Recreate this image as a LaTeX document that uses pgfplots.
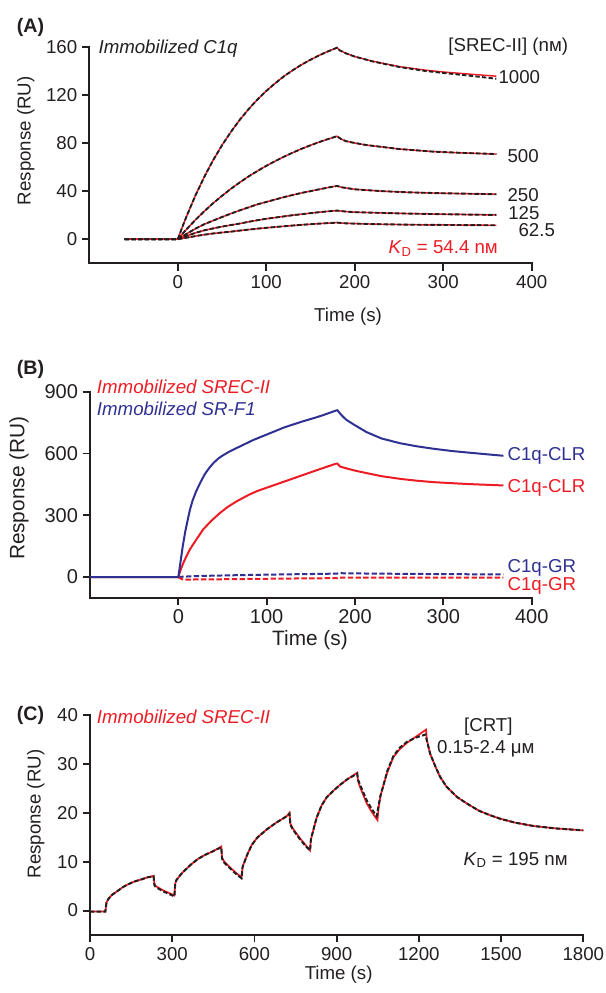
\documentclass[border=0pt]{standalone}
\usepackage{fontspec}
\setmainfont{Liberation Sans}
\usepackage{pgfplots}
\usepackage{pgfplotstable}
\pgfplotsset{compat=1.18}
\definecolor{myred}{HTML}{ED1C24}
\definecolor{myblue}{HTML}{2E3192}
\definecolor{ink}{HTML}{231F20}
\newcommand\fs{\fontsize{14}{16.8}\selectfont}
\newcommand\fsb{\fontsize{15}{18}\selectfont}

\pgfplotstableread{
t r
-60 0
0 0
5 9.9
10 19.2
20 36.5
30 51.9
40 65.8
50 78.1
60 89.2
70 99.2
80 108.1
90 116.1
100 123.2
110 129.6
120 135.4
130 140.5
140 145.1
150 149.2
160 152.9
170 156.2
180 159.2
183 157
190 154.5
200 151.8
220 148
250 143.5
280 140.5
300 139
330 137.2
360 135.5
}\Afitk
\pgfplotstableread{
t r
-60 0
0 0
5 9.9
10 19.2
20 36.5
30 51.9
40 65.8
50 78.1
60 89.2
70 99.2
80 108.1
90 116.1
100 123.2
110 129.6
120 135.4
130 140.5
140 145.1
150 149.2
160 152.9
170 156.2
180 159.2
183 157
190 154.5
200 151.8
220 147.8
250 143.2
280 139.8
300 138.2
330 135.9
360 133.4
}\Adatk
\pgfplotstableread{
t r
-60 0
0 0
10 8.4
20 16.1
30 23.3
40 30.0
50 36.1
60 41.9
70 47.2
80 52.2
90 56.7
100 61.0
110 64.9
120 68.6
130 72.0
140 75.2
150 78.1
160 80.8
170 83.3
180 85.6
184 83.5
190 81.5
200 80
213 78.3
250 75
289 72.8
320 71.8
360 70.8
}\Afive
\pgfplotstableread{
t r
-60 0
0 0
10 4.5
20 8.8
30 12.5
40 15.5
50 18.5
60 21.3
70 24
80 26.5
90 29
100 31
110 33
120 35
130 36.8
140 38.5
150 40
160 41.5
170 43
180 44.3
185 43.2
200 41.5
230 40
260 39
300 38.2
360 37.4
}\Atwo
\pgfplotstableread{
t r
-60 0
0 0
10 2.8
20 5.3
30 7.4
40 9
50 10.5
60 11.8
70 13
80 14.5
90 15.8
100 17
110 18
120 19
130 20
140 20.8
150 21.7
160 22.5
170 23.2
180 23.8
190 23
200 22.5
250 21.5
300 20.8
360 20.2
}\Aone
\pgfplotstableread{
t r
-60 0
0 0
10 1.3
20 2.6
30 3.8
40 4.8
50 5.6
60 6.3
70 7.2
80 8
90 8.8
100 9.5
120 10.8
140 12
160 13
180 13.8
190 13.2
220 12.6
260 12.1
300 11.9
360 11.6
}\Asix

\pgfplotstableread{
t r
-100 0
0 0
2 60
5 150
8 225
10 265
13 325
16 370
20 415
25 460
30 500
35 530
40 555
45 575
50 590
58 610
70 635
85 666
100 692
120 727
140 755
155 774
165 788
178 808
180 810
185 785
190 764
200 737
213 704
230 673
251 650
270 635
289 623
310 612
327 605
350 596
368 589
}\BblueCLR
\pgfplotstableread{
t r
-100 0
0 0
3 40
6 72
9 100
13 134
20 180
28 231
37 272
47 311
56 341
66 368
80 400
90 419
104 440
120 464
142 497
160 524
178 550
180 551
183 537
190 528
200 517
213 505
230 490
251 477
270 468
289 461
310 456
327 452
350 448
368 445
}\BredCLR
\pgfplotstableread{
t r
0 0
5 2
20 5
50 8
100 12
150 15
180 17
182 19
200 18
250 16
300 14.5
368 13
}\BblueGR
\pgfplotstableread{
t r
0 0
4 -10
8 -12
30 -11
60 -10
100 -8
150 -6
180 -5
182 -2
190 -3
250 -3
300 -2.5
368 -2
}\BredGR

\pgfplotstableread{
t r
0 -0.2
56 -0.2
60 1.6
66 2.3
80 3.2
103 4.1
120 4.8
140 5.4
160 5.9
189 6.4
210 6.8
232 7.1
235 5.5
240 5.0
268 4.1
308 3.1
311 5.5
315 6.2
330 7.3
347 8.3
370 9.5
395 10.6
420 11.4
444 12.0
465 12.6
479 13.1
482 10.8
490 10.0
517 8.5
535 7.6
553 6.8
557 9.0
566 10.3
575 11.6
590 13.4
610 14.9
645 16.6
680 18.0
718 19.3
728 20.0
731 17.8
740 16.8
766 14.8
785 13.5
803 12.3
806 14.5
815 16.5
827 19.0
845 21.5
864 23.2
890 24.6
912 25.7
940 26.9
975 28.2
978 26.5
985 25.3
1010 21.9
1030 20.0
1049 18.5
1053 21.0
1060 23.5
1070 25.5
1085 28.3
1107 31.4
1130 33.0
1156 34.3
1190 35.6
1226 37.0
1229 35.0
1241 32.1
1260 29.5
1277 27.4
1300 25.4
1314 24.6
1340 23.2
1375 21.9
1420 20.4
1460 19.5
1496 18.8
1550 18.0
1618 17.3
1700 16.8
1800 16.4
}\Cfit
\pgfplotstableread{
t r
0 -0.2
56 -0.2
60 1.6
66 2.3
80 3.2
103 4.1
120 4.8
140 5.4
160 5.9
189 6.4
210 6.8
232 7.0
235 5.2
240 4.8
268 3.9
308 2.9
311 5.5
315 6.2
330 7.3
347 8.3
370 9.5
395 10.6
420 11.4
444 12.0
465 12.6
479 12.9
482 10.6
490 9.8
517 8.3
535 7.4
553 6.6
557 9.0
566 10.3
575 11.6
590 13.4
610 14.9
645 16.6
680 18.0
718 19.3
728 19.8
731 17.6
740 16.6
766 14.6
785 13.3
803 12.3
806 14.5
815 16.5
827 19.0
845 21.5
864 23.2
890 24.6
912 25.7
940 26.9
975 28.0
978 26.8
985 25.8
1010 22.5
1030 20.6
1046 19.3
1053 21.5
1060 23.5
1070 25.5
1085 28.6
1107 31.6
1130 33.3
1156 34.5
1190 35.4
1224 36.0
1229 34.8
1241 32.1
1260 29.5
1277 27.4
1300 25.4
1314 24.6
1340 23.2
1375 21.9
1420 20.4
1460 19.5
1496 18.8
1550 18.0
1618 17.3
1700 16.8
1800 16.4
}\Cdat

\pgfplotsset{
  panel/.style={
    scale only axis,
    axis lines=left,
    axis line style={-, line width=1.5pt, ink, line cap=rect},
    every tick/.style={ink, line width=1.4pt},
    tick align=outside,
    major tick length=5.5pt,
    tick label style={ink, font=\fs},
    label style={ink, font=\fs},
    /pgf/number format/assume math mode=true,
    /pgf/number format/set thousands separator={},
    scaled ticks=false,
    clip=false,
    minor tick num=0,
  },
  fitline/.style={myred, line width=1.1pt},
  datline/.style={ink, line width=1.4pt, dash pattern=on 3.3pt off 1.7pt},
}

\begin{document}
\begin{tikzpicture}
\useasboundingbox (0,0) rectangle (454.5pt,-744.75pt);

% ---------- Panel A ----------
\begin{axis}[panel,
  at={(66.98pt,-197.48pt)}, anchor=south west,
  width=331.8pt, height=162.45pt,
  xmin=-100, xmax=400, ymin=-20, ymax=160,
  xtick={0,100,...,400}, ytick={0,40,...,160},
  xlabel={Time (s)}, ylabel={Response (RU)},
  xlabel style={at={(axis description cs:0.585,-0.2465)}, anchor=center},
  ylabel style={at={(axis description cs:-0.1435,0.5656)}, anchor=center},
]
\addplot[fitline] table[x=t,y=r] {\Afitk};
\addplot[fitline] table[x=t,y=r] {\Afive};
\addplot[fitline] table[x=t,y=r] {\Atwo};
\addplot[fitline] table[x=t,y=r] {\Aone};
\addplot[fitline] table[x=t,y=r] {\Asix};
\addplot[datline] table[x=t,y=r] {\Adatk};
\addplot[datline] table[x=t,y=r] {\Afive};
\addplot[datline] table[x=t,y=r] {\Atwo};
\addplot[datline] table[x=t,y=r] {\Aone};
\addplot[datline] table[x=t,y=r] {\Asix};
\end{axis}

% ---------- Panel B ----------
\begin{axis}[panel,
  at={(67.5pt,-448.28pt)}, anchor=south west,
  width=331.28pt, height=154.5pt,
  xmin=-100, xmax=400, ymin=-100, ymax=900,
  xtick={0,100,...,400}, ytick={0,300,600,900},
  tick label style={font=\fsb},
  label style={font=\fontsize{15.6}{18}\selectfont},
  xlabel={Time (s)}, ylabel={Response (RU)},
  xlabel style={at={(axis description cs:0.498,-0.205)}, anchor=center},
  ylabel style={at={(axis description cs:-0.1607,0.531)}, anchor=center},
]
\addplot[myblue, line width=1.5pt, dash pattern=on 4pt off 1.8pt] table[x=t,y=r] {\BblueGR};
\addplot[myred, line width=1.5pt, dash pattern=on 4pt off 1.8pt] table[x=t,y=r] {\BredGR};
\addplot[myred, line width=1.5pt] table[x=t,y=r] {\BredCLR};
\addplot[myblue, line width=1.5pt] table[x=t,y=r] {\BblueCLR};
\end{axis}

% ---------- Panel C ----------
\begin{axis}[panel,
  at={(67.5pt,-701.25pt)}, anchor=south west,
  width=369.98pt, height=165pt,
  xmin=0, xmax=1800, ymin=-5, ymax=40,
  xtick={0,300,...,1800}, ytick={0,10,...,40},
  xlabel={Time (s)}, ylabel={Response (RU)},
  xlabel style={at={(axis description cs:0.504,-0.182)}, anchor=center},
  ylabel style={at={(axis description cs:-0.11,0.55)}, anchor=center},
]
\addplot[myred, line width=1.3pt] table[x=t,y=r] {\Cfit};
\addplot[ink, line width=1.5pt, dash pattern=on 3.3pt off 1.7pt] table[x=t,y=r] {\Cdat};
\end{axis}

% ---------- Text annotations ----------
\begin{scope}[x=0.75pt, y=-0.75pt, every node/.style={inner sep=0pt, text=ink, font=\fs}]
\node[anchor=base west, font=\fontsize{14.7}{17}\selectfont\bfseries] at (16.7,32.3) {(A)};
\node[anchor=base west, font=\fontsize{14.7}{17}\selectfont\bfseries] at (16.7,374) {(B)};
\node[anchor=base west, font=\fontsize{14.7}{17}\selectfont\bfseries] at (16.7,720) {(C)};

\node[anchor=base west, font=\fs\itshape] at (98.3,53.5) {Immobilized C1q};
\node[anchor=base] at (508.3,51.7) {[SREC-II] (nм)};
\node[anchor=base west] at (498.3,83.3) {1000};
\node[anchor=base west] at (507.3,162.3) {500};
\node[anchor=base west] at (507.3,201) {250};
\node[anchor=base west] at (508,219) {125};
\node[anchor=base west] at (518.3,236.7) {62.5};
\node[anchor=base west, text=myred] at (388.3,253.3) {\textit{K}\textsubscript{D} = 54.4 nм};

\node[anchor=base west, font=\fs\itshape, text=myred] at (96.7,393.3) {Immobilized SREC-II};
\node[anchor=base west, font=\fs\itshape, text=myblue] at (96.7,415) {Immobilized SR-F1};
\node[anchor=base west, text=myblue] at (507.3,460.7) {C1q-CLR};
\node[anchor=base west, text=myred] at (507.3,492.3) {C1q-CLR};
\node[anchor=base west, text=myblue] at (507.3,572.7) {C1q-GR};
\node[anchor=base west, text=myred] at (507.3,590.7) {C1q-GR};

\node[anchor=base west, font=\fs\itshape, text=myred] at (96.7,723.3) {Immobilized SREC-II};
\node[anchor=base] at (488.3,731.7) {[CRT]};
\node[anchor=base] at (485.8,753.3) {0.15-2.4 μм};
\node[anchor=base west] at (463.3,865) {\textit{K}\textsubscript{D} = 195 nм};
\end{scope}
\end{tikzpicture}
\end{document}
